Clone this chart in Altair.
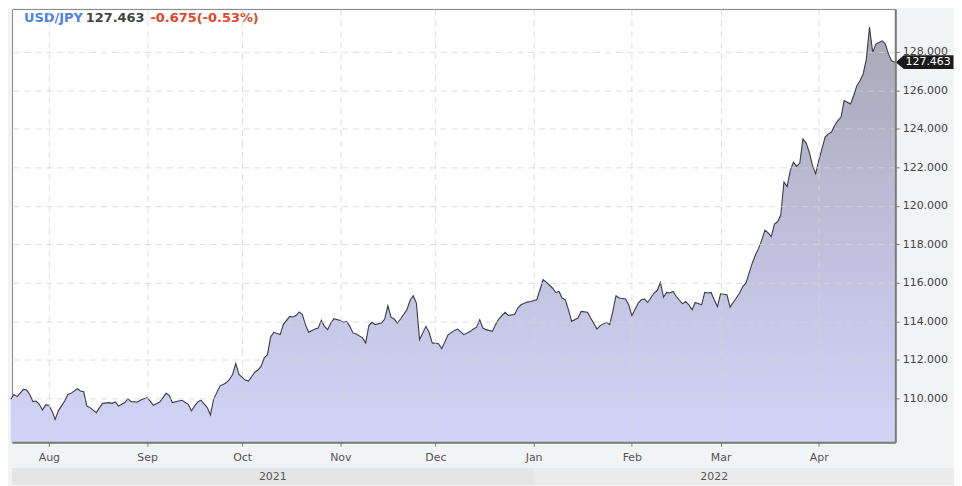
import altair as alt
import pandas as pd

# ---------------- data ----------------
dates = [
    "2021-07-20", "2021-07-21", "2021-07-22", "2021-07-24", "2021-07-25", "2021-07-26",
    "2021-07-27", "2021-07-28", "2021-07-29", "2021-07-30", "2021-07-31", "2021-08-01",
    "2021-08-02", "2021-08-03", "2021-08-04", "2021-08-06", "2021-08-07", "2021-08-08",
    "2021-08-10", "2021-08-11", "2021-08-12", "2021-08-13", "2021-08-14", "2021-08-16",
    "2021-08-17", "2021-08-18", "2021-08-20", "2021-08-21", "2021-08-22", "2021-08-23",
    "2021-08-25", "2021-08-26", "2021-08-27", "2021-08-29", "2021-08-30", "2021-09-01",
    "2021-09-02", "2021-09-03", "2021-09-05", "2021-09-07", "2021-09-08", "2021-09-09",
    "2021-09-11", "2021-09-12", "2021-09-14", "2021-09-15", "2021-09-16", "2021-09-17",
    "2021-09-18", "2021-09-20", "2021-09-21", "2021-09-22", "2021-09-24", "2021-09-25",
    "2021-09-26", "2021-09-27", "2021-09-28", "2021-09-29", "2021-09-30", "2021-10-02",
    "2021-10-03", "2021-10-04", "2021-10-05", "2021-10-06", "2021-10-07", "2021-10-08",
    "2021-10-09", "2021-10-10", "2021-10-11", "2021-10-13", "2021-10-14", "2021-10-16",
    "2021-10-17", "2021-10-18", "2021-10-19", "2021-10-20", "2021-10-21", "2021-10-22",
    "2021-10-24", "2021-10-25", "2021-10-26", "2021-10-27", "2021-10-28", "2021-10-29",
    "2021-10-30", "2021-11-01", "2021-11-02", "2021-11-03", "2021-11-04", "2021-11-05",
    "2021-11-06", "2021-11-08", "2021-11-09", "2021-11-10", "2021-11-11", "2021-11-12",
    "2021-11-14", "2021-11-15", "2021-11-16", "2021-11-17", "2021-11-18", "2021-11-19",
    "2021-11-20", "2021-11-22", "2021-11-23", "2021-11-24", "2021-11-25", "2021-11-26",
    "2021-11-28", "2021-11-29", "2021-11-30", "2021-12-02", "2021-12-03", "2021-12-05",
    "2021-12-07", "2021-12-08", "2021-12-10", "2021-12-12", "2021-12-13", "2021-12-14",
    "2021-12-15", "2021-12-16", "2021-12-17", "2021-12-19", "2021-12-20", "2021-12-21",
    "2021-12-23", "2021-12-24", "2021-12-26", "2021-12-27", "2021-12-28", "2021-12-30",
    "2021-12-31", "2022-01-02", "2022-01-03", "2022-01-04", "2022-01-05", "2022-01-07",
    "2022-01-08", "2022-01-09", "2022-01-10", "2022-01-11", "2022-01-12", "2022-01-13",
    "2022-01-15", "2022-01-16", "2022-01-18", "2022-01-19", "2022-01-21", "2022-01-22",
    "2022-01-24", "2022-01-25", "2022-01-26", "2022-01-27", "2022-01-28", "2022-01-30",
    "2022-01-31", "2022-02-01", "2022-02-03", "2022-02-04", "2022-02-05", "2022-02-06",
    "2022-02-08", "2022-02-09", "2022-02-10", "2022-02-11", "2022-02-12", "2022-02-13",
    "2022-02-14", "2022-02-15", "2022-02-17", "2022-02-18", "2022-02-19", "2022-02-20",
    "2022-02-21", "2022-02-23", "2022-02-24", "2022-02-25", "2022-02-26", "2022-02-27",
    "2022-02-28", "2022-03-01", "2022-03-03", "2022-03-04", "2022-03-05", "2022-03-07",
    "2022-03-08", "2022-03-09", "2022-03-11", "2022-03-12", "2022-03-13", "2022-03-14",
    "2022-03-15", "2022-03-16", "2022-03-17", "2022-03-18", "2022-03-19", "2022-03-20",
    "2022-03-21", "2022-03-22", "2022-03-23", "2022-03-24", "2022-03-25", "2022-03-26",
    "2022-03-27", "2022-03-28", "2022-03-29", "2022-03-30", "2022-03-31", "2022-04-01",
    "2022-04-02", "2022-04-03", "2022-04-04", "2022-04-05", "2022-04-06", "2022-04-07",
    "2022-04-08", "2022-04-09", "2022-04-10", "2022-04-11", "2022-04-12", "2022-04-13",
    "2022-04-14", "2022-04-15", "2022-04-16", "2022-04-17", "2022-04-18", "2022-04-19",
    "2022-04-20", "2022-04-21", "2022-04-22", "2022-04-23", "2022-04-24", "2022-04-25",
]
values = [
    109.95, 110.20, 110.09, 110.47, 110.43, 110.20,
    109.83, 109.86, 109.69, 109.40, 109.66, 109.64,
    109.35, 108.91, 109.35, 109.86, 110.20, 110.26,
    110.50, 110.38, 110.34, 109.60, 109.52, 109.26,
    109.52, 109.74, 109.78, 109.74, 109.81, 109.60,
    109.78, 109.98, 109.83, 109.81, 109.91, 110.04,
    109.86, 109.64, 109.81, 110.26, 110.15, 109.78,
    109.86, 109.90, 109.69, 109.35, 109.60, 109.81,
    109.91, 109.52, 109.14, 109.95, 110.64, 110.72,
    110.81, 110.98, 111.24, 111.81, 111.24, 110.95,
    110.90, 111.12, 111.36, 111.47, 111.67, 112.11,
    112.27, 113.19, 113.43, 113.31, 113.83, 114.26,
    114.23, 114.30, 114.49, 114.35, 113.83, 113.43,
    113.60, 113.65, 114.05, 113.74, 113.57, 113.91,
    114.14, 114.05, 113.95, 114.00, 113.74, 113.40,
    113.34, 113.14, 112.88, 113.78, 113.95, 113.83,
    113.91, 114.12, 114.81, 114.22, 114.12, 113.91,
    114.12, 114.60, 115.08, 115.33, 114.95, 113.05,
    113.74, 113.43, 112.88, 112.84, 112.58, 113.30,
    113.53, 113.60, 113.31, 113.48, 113.60, 113.70,
    114.08, 113.65, 113.57, 113.48, 113.83, 114.12,
    114.47, 114.31, 114.35, 114.69, 114.86, 115.00,
    115.03, 115.12, 115.64, 116.16, 116.04, 115.72,
    115.50, 115.55, 115.21, 115.12, 114.60, 114.00,
    114.17, 114.52, 114.47, 114.17, 113.60, 113.78,
    113.95, 113.83, 114.52, 115.33, 115.21, 115.16,
    114.86, 114.29, 114.95, 115.12, 115.16, 114.98,
    115.47, 115.60, 116.02, 115.26, 115.50, 115.47,
    115.55, 115.29, 114.91, 115.03, 114.86, 114.60,
    114.98, 114.86, 115.50, 115.47, 115.50, 115.12,
    114.77, 115.43, 115.38, 114.74, 114.98, 115.47,
    115.81, 115.98, 117.02, 117.45, 117.79, 118.22,
    118.74, 118.60, 118.40, 119.05, 119.17, 119.52,
    121.24, 121.00, 121.84, 122.27, 122.05, 122.22,
    123.48, 123.26, 122.79, 122.10, 121.67, 122.36,
    122.97, 123.57, 123.74, 123.83, 124.17, 124.43,
    124.60, 125.47, 125.38, 125.29, 125.72, 126.24,
    126.50, 126.85, 127.62, 129.29, 127.97, 128.40,
    128.48, 128.57, 128.40, 127.88, 127.53, 127.463,
]

symbol = "USD/JPY"
last_price = 127.463
change = -0.675
change_pct = -0.53

month_ticks = ["2021-08-01", "2021-09-01", "2021-10-01", "2021-11-01", "2021-12-01",
               "2022-01-01", "2022-02-01", "2022-03-01", "2022-04-01"]
y_ticks = [110, 112, 114, 116, 118, 120, 122, 124, 126, 128]
years = ["2021", "2022"]
year_start_2022 = "2022-01-01"

x_domain = ["2021-07-20T09:00:00", "2022-04-25T03:00:00"]
y_domain = [107.724, 130.224]

# ---------------- layout / style ----------------
W, H = 887, 435
FONT = "DejaVu Sans"

df = pd.DataFrame({"date": dates, "price": values})


def dt(s):
    t = pd.Timestamp(s)
    return alt.DateTime(year=t.year, month=t.month, date=t.day,
                        hours=t.hour, minutes=t.minute, utc=True)


x_scale = alt.Scale(type="utc", domain=[dt(d) for d in x_domain])
y_scale = alt.Scale(domain=y_domain, zero=False, nice=False)

x_axis = alt.Axis(
    values=[dt(d) for d in month_ticks], labelExpr="utcFormat(datum.value, '%b')",
    title=None, grid=True, gridColor="#d4d4d4", gridDash=[6, 5], gridOpacity=0.8,
    domainColor="#7a7a7a", domainWidth=2, tickColor="#7a7a7a", tickSize=4,
    labelColor="#555555", labelFont=FONT, labelFontSize=11, labelPadding=5,
    labelFlush=False, zindex=1,
)
y_axis = alt.Axis(
    orient="right", values=y_ticks, format=".3f", title=None,
    grid=True, gridColor="#d4d4d4", gridDash=[6, 5], gridOpacity=0.8,
    domainColor="#7a7a7a", domainWidth=2, tickColor="#7a7a7a", tickSize=4,
    labelColor="#444444", labelFont=FONT, labelFontSize=11, labelPadding=3,
    labelOverlap=False, labelFlush=False, zindex=1,
)

base = alt.Chart(df)

area = base.mark_area(
    fill=alt.Gradient(
        gradient="linear",
        stops=[alt.GradientStop(color="#a7a7b4", offset=0),
               alt.GradientStop(color="#bdbdd9", offset=0.45),
               alt.GradientStop(color="#d3d3f7", offset=1)],
        x1=0, x2=0, y1=0, y2=1,
    ),
    fillOpacity=1,
).encode(
    x=alt.X("date:T", scale=x_scale, axis=x_axis),
    y=alt.Y("price:Q", scale=y_scale, axis=y_axis),
    y2=alt.datum(y_domain[0]),
)

line = base.mark_line(color="#3b3b48", strokeWidth=1.1).encode(
    x=alt.X("date:T", scale=x_scale),
    y=alt.Y("price:Q", scale=y_scale),
)

# year band under the month labels
band_all = alt.Chart(pd.DataFrame({"k": [0]})).mark_rect(color="#ebebeb").encode(
    x=alt.value(0), x2=alt.value(W + 59), y=alt.value(H + 26), y2=alt.value(H + 43),
)
band_2021 = alt.Chart(pd.DataFrame({"s": [x_domain[0]], "e": [year_start_2022]})).mark_rect(
    color="#e5e5e5").encode(
    x=alt.X("s:T", scale=x_scale), x2="e:T",
    y=alt.value(H + 26), y2=alt.value(H + 43),
)

start = pd.Timestamp(x_domain[0])
jan = pd.Timestamp(year_start_2022)
end = pd.Timestamp(dates[-1])
year_mid = [(start + (jan - start) / 2).isoformat(), (jan + (end - jan) / 2).isoformat()]
year_df = pd.DataFrame({"year": years, "mid": year_mid})
year_text = alt.Chart(year_df).mark_text(
    font=FONT, fontSize=11, color="#555555", baseline="middle", align="center"
).encode(
    x=alt.X("mid:T", scale=x_scale), y=alt.value(H + 35), text="year:N",
)

# title pieces (inside the plot, top-left)
title_df = pd.DataFrame({
    "t": [symbol, f"{last_price:.3f}", f"{change:.3f}({change_pct:.2f}%)"],
    "c": ["sym", "px", "chg"],
    "xo": [12, 74, 139],
})
title = alt.Chart(title_df).mark_text(
    font=FONT, fontSize=13, fontWeight="bold", align="left", baseline="middle"
).encode(
    x=alt.X("xo:Q", scale=None), y=alt.value(9), text="t:N",
    color=alt.Color("c:N", scale=alt.Scale(domain=["sym", "px", "chg"],
                                           range=["#4d82ee", "#444444", "#e4462b"]),
                    legend=None),
)

# last price tag on the right axis
tag_df = pd.DataFrame({"price": [last_price], "label": [f"{last_price:.3f}"]})
tag = alt.Chart(tag_df).mark_point(
    shape="M -1 0 L -0.72 -0.24 L 1 -0.24 L 1 0.24 L -0.72 0.24 Z",
    filled=True, color="#1b1b1b", opacity=1, size=3364,
).encode(x=alt.value(W + 29.5), y=alt.Y("price:Q", scale=y_scale))
tag_text = alt.Chart(tag_df).mark_text(
    font=FONT, fontSize=11, color="white", align="center", baseline="middle"
).encode(x=alt.value(W + 33), y=alt.Y("price:Q", scale=y_scale), text="label:N")

chart = alt.layer(
    area, line, band_all, band_2021, year_text, title, tag, tag_text
).resolve_scale(color="independent").properties(
    width=W, height=H,
    padding={"left": 0, "top": 0, "right": 0, "bottom": 0},
    background="#f2f3f5",
).configure_view(
    fill="white", stroke="#8a8a8a", strokeWidth=1,
)

chart.save("out.html", embed_options={"renderer": "svg", "actions": False})
